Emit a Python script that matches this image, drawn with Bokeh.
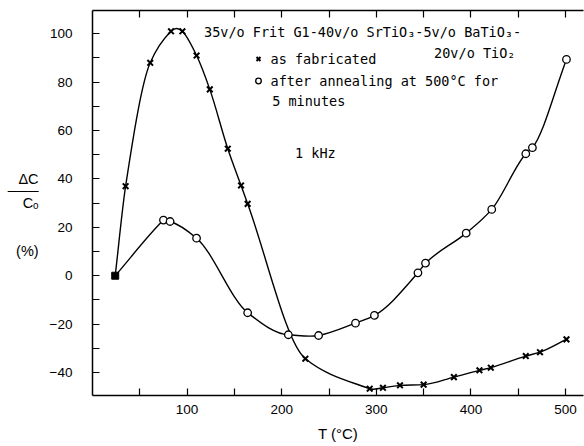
from bokeh.plotting import figure
from bokeh.models import Range1d, LinearAxis, Label, Legend, LegendItem, FixedTicker, CustomJSTickFormatter
from bokeh.embed import file_html
from bokeh.resources import INLINE

# ---- data ----
start_t = [24]
start_v = [0]

fab_t = [35, 61, 83, 95, 110, 124, 143, 157, 164, 225, 293, 307, 325, 350, 382, 409, 421, 458, 473, 501]
fab_v = [37.0, 88.0, 101.0, 101.0, 91.0, 77.0, 52.5, 37.3, 29.7, -34.3, -46.7, -46.3, -45.3, -45.0,
         -41.9, -39.1, -38.0, -33.2, -31.6, -26.3]

ann_t = [75, 82, 110, 164, 207, 239, 278, 298, 344, 352, 395, 422, 458, 465, 501]
ann_v = [23.0, 22.4, 15.5, -15.3, -24.4, -24.7, -19.6, -16.4, 1.2, 5.2, 17.6, 27.4, 50.4, 52.9, 89.4]

x_ticks = [100, 200, 300, 400, 500]
x_minor = [50, 150, 250, 350, 450]
top_ticks = [50, 100, 150, 200, 250, 300, 350, 400, 450, 500]
y_ticks = [-40, -20, 0, 20, 40, 60, 80, 100]
y_minor = [-30, -10, 10, 30, 50, 70, 90]

MONO = "DejaVu Sans Mono"
SANS = "Liberation Sans"

p = figure(width=584, height=446, x_range=Range1d(0, 519), y_range=Range1d(-49.5, 109.6),
           output_backend="svg", toolbar_location=None,
           x_axis_location=None, y_axis_location=None,
           min_border_left=92, min_border_right=1, min_border_top=10, min_border_bottom=51)
p.outline_line_color = None
p.xgrid.visible = False
p.ygrid.visible = False
p.background_fill_color = "white"


def style_axis(ax):
    ax.axis_line_color = "black"
    ax.axis_line_width = 1.5
    ax.major_tick_line_color = "black"
    ax.minor_tick_line_color = "black"
    ax.major_tick_line_width = 1.2
    ax.minor_tick_line_width = 1.2
    ax.major_tick_in = 7
    ax.major_tick_out = 0
    ax.minor_tick_in = 7
    ax.minor_tick_out = 0
    ax.major_label_text_font = SANS
    ax.major_label_text_font_size = "13.5px"
    ax.major_label_text_color = "black"
    ax.axis_label_text_color = "black"


xb = LinearAxis(ticker=FixedTicker(ticks=x_ticks, minor_ticks=x_minor))
style_axis(xb)
xb.major_label_standoff = 9
xb.axis_label = "T (°C)"
xb.axis_label_text_font = SANS
xb.axis_label_text_font_size = "15px"
xb.axis_label_text_font_style = "normal"
xb.axis_label_standoff = 8
p.add_layout(xb, "below")

yl = LinearAxis(ticker=FixedTicker(ticks=y_ticks, minor_ticks=y_minor))
style_axis(yl)
yl.major_label_standoff = 20
yl.axis_label = "\n\nΔC\n───\nCₒ\n\n\n\n(%)"
yl.axis_label_orientation = "horizontal"
yl.axis_label_text_font = SANS
yl.axis_label_text_font_size = "14.5px"
yl.axis_label_text_font_style = "normal"
yl.axis_label_text_align = "center"
yl.axis_label_text_line_height = 0.75
yl.axis_label_standoff = 8
p.add_layout(yl, "left")

xt = LinearAxis(ticker=FixedTicker(ticks=top_ticks, minor_ticks=[]),
                formatter=CustomJSTickFormatter(code="return ''"))
style_axis(xt)
xt.major_label_text_font_size = "1px"
xt.major_label_standoff = 0
p.add_layout(xt, "above")


def hermite_curve(xs, ys, **kw):
    n = len(xs)
    d = [(ys[i + 1] - ys[i]) / (xs[i + 1] - xs[i]) for i in range(n - 1)]
    h = [xs[i + 1] - xs[i] for i in range(n - 1)]
    slopes = [d[0]]
    for i in range(1, n - 1):
        a, b = d[i - 1], d[i]
        if a * b > 0:
            w1 = 2 * h[i] + h[i - 1]
            w2 = h[i] + 2 * h[i - 1]
            slopes.append((w1 + w2) / (w1 / a + w2 / b))
        else:
            slopes.append((ys[i + 1] - ys[i - 1]) / (xs[i + 1] - xs[i - 1]))
    slopes.append(d[-1])
    x0, y0, x1, y1, cx0, cy0, cx1, cy1 = [], [], [], [], [], [], [], []
    for i in range(n - 1):
        x0.append(xs[i]); y0.append(ys[i])
        x1.append(xs[i + 1]); y1.append(ys[i + 1])
        cx0.append(xs[i] + h[i] / 3); cy0.append(ys[i] + slopes[i] * h[i] / 3)
        cx1.append(xs[i + 1] - h[i] / 3); cy1.append(ys[i + 1] - slopes[i + 1] * h[i] / 3)
    p.bezier(x0=x0, y0=y0, x1=x1, y1=y1, cx0=cx0, cy0=cy0, cx1=cx1, cy1=cy1, **kw)


hermite_curve(start_t + fab_t, start_v + fab_v, line_color="black", line_width=1.4)
hermite_curve(start_t + ann_t, start_v + ann_v, line_color="black", line_width=1.4)

fab_r = p.scatter(fab_t, fab_v, marker="x", size=8, line_color="black", line_width=2)
ann_r = p.scatter(ann_t, ann_v, marker="circle", size=7.5, line_color="black", line_width=1.3,
                  fill_color="white")
p.scatter(start_t, start_v, marker="square", size=7, line_color="black", fill_color="black")

legend = Legend(items=[LegendItem(label="as fabricated", renderers=[fab_r]),
                       LegendItem(label="after annealing at 500°C for", renderers=[ann_r])],
                location=(158.6, 306), orientation="vertical",
                background_fill_alpha=0, border_line_color=None, padding=0, margin=0,
                spacing=5, label_height=17, glyph_height=17, glyph_width=14, label_standoff=6,
                label_text_font=MONO, label_text_font_size="13.5px", label_text_color="black")
p.add_layout(legend)


def add_text(x, y, text, font=MONO, size="13.5px", align="left", baseline="alphabetic"):
    p.add_layout(Label(x=x, y=y, text=text, text_font=font, text_font_size=size,
                       text_align=align, text_baseline=baseline, text_color="black"))


add_text(117.9, 100.9, "35v/o Frit G1-40v/o SrTiO₃-5v/o BaTiO₃-")
add_text(361.1, 92.2, "20v/o TiO₂")
add_text(189.9, 72.4, "5 minutes")
add_text(214.1, 50.9, "1 kHz")

open("out.html", "w").write(file_html(p, INLINE))
